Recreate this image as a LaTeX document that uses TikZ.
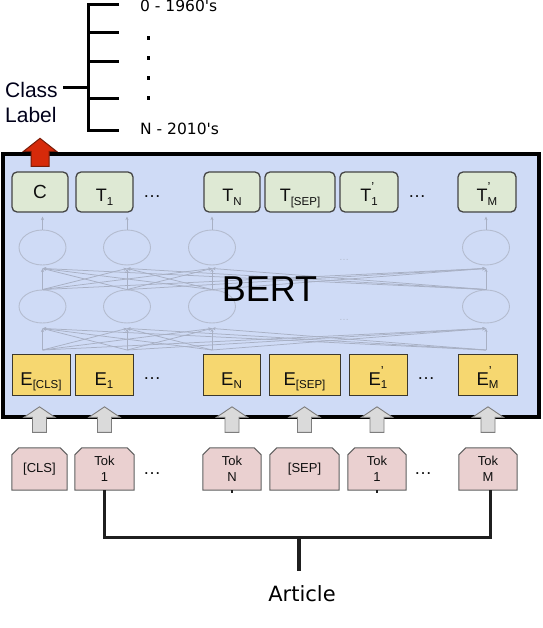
\documentclass[tikz,border=0pt]{standalone}
\usepackage{fontspec}
\setmainfont{Liberation Sans}
\newfontfamily\djv{DejaVu Sans}
\newfontfamily\capfnt{Liberation Serif}
\usetikzlibrary{shapes.geometric,arrows.meta,calc,backgrounds}
\definecolor{bgblue}{RGB}{207,219,246}
\definecolor{netgray}{RGB}{168,176,196}
\definecolor{ellgray}{RGB}{180,188,207}
\definecolor{tgreen}{RGB}{222,233,212}
\definecolor{tborder}{RGB}{68,68,68}
\definecolor{eyellow}{RGB}{246,215,112}
\definecolor{eborder}{RGB}{60,56,44}
\definecolor{tokpink}{RGB}{234,208,208}
\definecolor{tokborder}{RGB}{95,95,95}
\definecolor{agray}{RGB}{218,218,218}
\definecolor{aborder}{RGB}{125,125,125}
\definecolor{redfill}{RGB}{214,42,10}
\definecolor{redborder}{RGB}{120,28,8}
\definecolor{txt}{RGB}{15,15,15}
\newcommand\lsub[1]{\raisebox{-3.4pt}{\fontsize{11.5}{11.5}\selectfont #1}}
\newcommand\lpr{\rlap{\raisebox{10pt}{\fontsize{13}{13}\selectfont ’}}}
\newcommand\tokframe[1]{%
  \begin{scope}[on background layer]
  \filldraw[tokfr] (#1.south west) -- ([yshift=-7pt]#1.north west) -- ([xshift=7pt]#1.north west)
     -- ([xshift=-7pt]#1.north east) -- ([yshift=-7pt]#1.north east) -- (#1.south east) -- cycle;
  \end{scope}}
\tikzset{
  uparr/.pic={\filldraw[pic actions] (-7,0) -- (-7,-15) -- (-15.5,-15) -- (0,-25.5) -- (15.5,-15) -- (7,-15) -- (7,0) -- cycle;},
  redarrow/.pic={\filldraw[pic actions] (-9,0) -- (-9,-15) -- (-16.5,-15) -- (0,-28) -- (16.5,-15) -- (9,-15) -- (9,0) -- cycle;}
}
\begin{document}
\begin{tikzpicture}[x=1pt,y=-1pt,
  tree/.style={line width=3pt, line join=miter, draw=black},
  tbox/.style={draw=tborder, fill=tgreen, rounded corners=5pt, line width=1.3pt, minimum height=40pt,
     inner sep=0pt, text height=21pt, text depth=1pt, font=\fontsize{18}{18}\selectfont, text=txt},
  ebox/.style={draw=eborder, fill=eyellow, line width=1pt, minimum height=41pt,
     inner sep=0pt, text height=21pt, text depth=1pt, font=\fontsize{18.5}{18.5}\selectfont, text=txt},
  tokbox/.style={minimum height=42pt, inner sep=0pt, align=center, font=\fontsize{13}{15.5}\selectfont, text=txt},
  tokfr/.style={fill=tokpink, draw=tokborder, line width=1pt},
  garrow/.style={fill=agray, draw=aborder, line width=0.9pt},
  rarrow/.style={fill=redfill, draw=redborder, line width=1pt},
  ell/.style={ellipse, draw=ellgray, line width=0.9pt, minimum width=47pt, minimum height=35pt, inner sep=0pt},
  net/.style={draw=netgray, line width=0.75pt, -{Stealth[length=3.6pt,width=3.2pt]}},
  dots/.style={font=\fontsize{18}{18}\selectfont, text=txt, inner sep=0pt},
  fdots/.style={font=\fontsize{10}{10}\selectfont, text=ellgray, inner sep=0pt},
  conn/.style={line width=3.4pt, draw=black!88},
  cl/.style={font=\fontsize{21}{21}\selectfont, text=black!90!blue, inner sep=0pt, anchor=base west},
  yr/.style={font=\djv\fontsize{15.5}{15.5}\selectfont, inner sep=0pt, anchor=base west},
]
\useasboundingbox (0,0) rectangle (542,628);
\clip (0,0) rectangle (542,628);

% class label tree
\node[cl] (cls) at (5,98) {Class};
\node[cl] (lbl) at (5,123) {Label};
\node[yr] (y0) at (140,11.7) {0 - 1960's};
\node[yr] (yn) at (140,135) {N - 2010's};
\coordinate (trunk) at (88,88);
\coordinate (tk0) at (119,5);
\coordinate (tk1) at (119,33);
\coordinate (tk2) at (119,62);
\coordinate (tk3) at (119,99);
\coordinate (tk4) at (119,131);
\draw[tree] (tk0) -- (tk0 -| trunk) -- (tk4 -| trunk) -- (tk4);
\draw[tree] (tk1 -| trunk) -- (tk1);
\draw[tree] (tk2 -| trunk) -- (tk2);
\draw[tree] (tk3 -| trunk) -- (tk3);
\draw[tree] (cls.east |- trunk) ++(5.5,0) -- (trunk);
\foreach \y in {36.5,56.5,76.5,96.5} \fill (146.5,\y) rectangle ++(3.3,3.3);

% BERT container
\draw[fill=bgblue, line width=3.8pt, draw=black] (3.3,154) rectangle (539,417);

% network
\foreach \i/\x in {1/42.5,2/127,3/212,4/486} {
  \node[ell] (u\i) at (\x,247.5) {};
  \node[ell, minimum height=33pt] (l\i) at (\x,306.5) {};
  \coordinate (b\i) at (\x,350);
}
\foreach \i in {1,2,3,4} {
  \foreach \j in {1,2,3,4} {
    \draw[net] (b\i) -- ([yshift=-5pt]l\j.south);
    \draw[net] (l\i.north) -- ([yshift=-3pt]u\j.south);
  }
  \draw[net] (u\i.north) -- ++(0,-13);
}
\node[fdots] (fd1) at (344,260) {…};
\node[fdots] (fd2) at (344,320) {…};
\node[font=\fontsize{36}{36}\selectfont, text=black, inner sep=0pt, anchor=base] (bert) at (269.5,301) {BERT};

% T row
\node[tbox, minimum width=56pt, text height=14pt, text depth=0pt, font=\fontsize{19}{19}\selectfont] (tc) at (40,192) {C};
\node[tbox, minimum width=57pt] (t1) at (104.5,192) {T\lsub{1}};
\node[dots] (td1) at (152,197) {…};
\node[tbox, minimum width=56pt] (tn) at (232,192) {T\lsub{N}};
\node[tbox, minimum width=70pt] (tsep) at (300,192) {T\lsub{[SEP]}};
\node[tbox, minimum width=58pt] (t1p) at (369,192) {T\lpr\lsub{1}};
\node[dots] (td2) at (417,197) {…};
\node[tbox, minimum width=58pt] (tmp) at (487,192) {T\lpr\lsub{M}};

% E row
\node[ebox, minimum width=58pt] (ecls) at (41,375) {E\lsub{[CLS]}};
\node[ebox, minimum width=58pt] (e1) at (104,375) {E\lsub{1}};
\node[dots] (ed1) at (152,379) {…};
\node[ebox, minimum width=57pt] (en) at (231.5,375) {E\lsub{N}};
\node[ebox, minimum width=71pt] (esep) at (304.5,375) {E\lsub{[SEP]}};
\node[ebox, minimum width=58pt] (e1p) at (378,375) {E\lpr\lsub{1}};
\node[dots] (ed2) at (426,379) {…};
\node[ebox, minimum width=59pt] (emp) at (487.5,375) {E\lpr\lsub{M}};

% red arrow
\pic[rarrow] at ($(tc.north)+(0,-5)$) {redarrow};

% token row
\node[tokbox, minimum width=55pt] (k0) at (39.5,469) {[CLS]};
\node[tokbox, minimum width=59pt] (k1) at (104.5,469) {Tok\\1};
\node[dots] (kd1) at (152,474) {…};
\node[tokbox, minimum width=58pt] (kn) at (232,469) {Tok\\N};
\node[tokbox, minimum width=69pt] (ksep) at (304.5,469) {[SEP]};
\node[tokbox, minimum width=58pt] (k1p) at (377,469) {Tok\\1};
\node[dots] (kd2) at (423,474) {…};
\node[tokbox, minimum width=58pt] (km) at (488,469) {Tok\\M};
\foreach \k in {k0,k1,kn,ksep,k1p,km} {\tokframe{\k}}
\foreach \k in {k0,k1,kn,ksep,k1p,km} {\pic[garrow] at ($(\k.north)+(0,-15.5)$) {uparr};}

% article connector
\node[font=\djv\fontsize{21}{21}\selectfont, anchor=base, inner sep=0pt] (art) at (302,601) {Article};
\coordinate (jn) at (299,537.5);
\draw[conn] (k1.south) |- (jn) -| ([xshift=2.5pt]km.south);
\draw[conn, line width=1.2pt] (kn.south) -- ++(0,3);
\draw[conn, line width=1.2pt] (k1p.south) -- ++(0,3);
\draw[conn, line width=4.8pt, shorten >=14pt] (jn) -- (jn |- art.north);

% caption (cut off at the bottom edge, as in the source)
\node[font=\capfnt\fontsize{28}{28}\selectfont, anchor=base west, inner sep=0pt, text=black!80] (cap) at (34,648) {Fig. 13: Architecture of our BERT Model};
\end{tikzpicture}
\end{document}
